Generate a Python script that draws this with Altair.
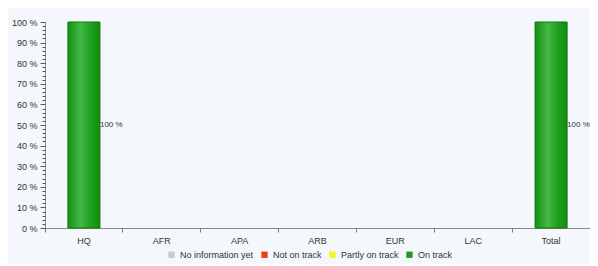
import altair as alt
import pandas as pd

categories = ["HQ", "AFR", "APA", "ARB", "EUR", "LAC", "Total"]
statuses = ["No information yet", "Not on track", "Partly on track", "On track"]
status_colors = ["#c8c8c8", "#e8401c", "#f5f520", "#1f9a1f"]

no_information = [0, 0, 0, 0, 0, 0, 0]
not_on_track = [0, 0, 0, 0, 0, 0, 0]
partly_on_track = [0, 0, 0, 0, 0, 0, 0]
on_track = [100, 0, 0, 0, 0, 0, 100]

major_ticks = [0, 10, 20, 30, 40, 50, 60, 70, 80, 90, 100]
minor_ticks = list(range(0, 101, 2))

series = [no_information, not_on_track, partly_on_track, on_track]
rows = []
for s, vals in zip(statuses, series):
    for c, v in zip(categories, vals):
        rows.append({"cat": c, "status": s, "v": v, "order": statuses.index(s)})
df = pd.DataFrame(rows)
df_on = pd.DataFrame({"cat": categories, "v": on_track})
df_on = df_on[df_on["v"] > 0]

FONT = "Liberation Sans"

xscale = alt.Scale(domain=categories, paddingInner=0, paddingOuter=0)
yscale = alt.Scale(domain=[0, 100], nice=False)

yaxis_major = alt.Axis(
    values=major_ticks,
    labelExpr="datum.value + ' %'",
    tickSize=5,
    tickColor="#555",
    domainColor="#888",
    grid=False,
    title=None,
    labelFont=FONT,
    labelFontSize=9,
    labelColor="#333",
    labelPadding=3,
    labelOverlap=False,
    orient="left",
)

yaxis_minor = alt.Axis(
    values=minor_ticks,
    labels=False,
    domain=False,
    tickSize=3,
    tickColor="#555",
    grid=False,
    title=None,
    orient="left",
)

bars = alt.Chart(df).mark_bar(size=32).encode(
    x=alt.X("cat:N", scale=xscale, sort=categories,
            axis=alt.Axis(title=None, ticks=False, labelAngle=0, labelFont=FONT,
                          labelFontSize=9, labelColor="#333", domainColor="#888",
                          labelPadding=8, orient="bottom")),
    y=alt.Y("v:Q", stack="zero", scale=yscale, axis=yaxis_major),
    color=alt.Color("status:N", scale=alt.Scale(domain=statuses, range=status_colors),
                    legend=alt.Legend(title=None, orient="none", direction="horizontal",
                                      legendX=122, legendY=228, symbolType="square",
                                      symbolSize=40, labelFont=FONT, labelFontSize=9,
                                      labelColor="#333", columnPadding=6,
                                      symbolStrokeWidth=0)),
    order=alt.Order("order:Q"),
)

grad = alt.Gradient(
    gradient="linear",
    stops=[
        alt.GradientStop(color="#129212", offset=0),
        alt.GradientStop(color="#45b845", offset=0.4),
        alt.GradientStop(color="#1fa01f", offset=0.7),
        alt.GradientStop(color="#128c12", offset=1),
    ],
    x1=0, x2=1, y1=0, y2=0,
)

overlay = alt.Chart(df_on).mark_bar(size=32, color=grad, stroke="#0d7a0d", strokeWidth=1).encode(
    x=alt.X("cat:N", scale=xscale, sort=categories, axis=None),
    y=alt.Y("v:Q", scale=yscale, axis=yaxis_minor),
)

labels = alt.Chart(df_on).transform_calculate(
    mid="datum.v / 2", lbl="datum.v + ' %'"
).mark_text(align="left", baseline="middle", dx=16, font=FONT, fontSize=8, color="#333").encode(
    x=alt.X("cat:N", scale=xscale, sort=categories,
            axis=alt.Axis(title=None, labels=False, domain=False, ticks=True, tickSize=4,
                          tickColor="#777", bandPosition=0, orient="bottom")),
    y=alt.Y("mid:Q", scale=yscale, axis=None),
    text="lbl:N",
)

chart = alt.layer(bars, overlay, labels).resolve_axis(x="independent", y="independent").properties(
    width=545,
    height=206,
    autosize=alt.AutoSizeParams(type="none"),
    padding={"left": 37, "top": 14, "right": 0, "bottom": 36},
    background="#f4f7fb",
).configure_view(stroke=None)

chart.save("out.html", embed_options={"renderer": "svg", "actions": False})
